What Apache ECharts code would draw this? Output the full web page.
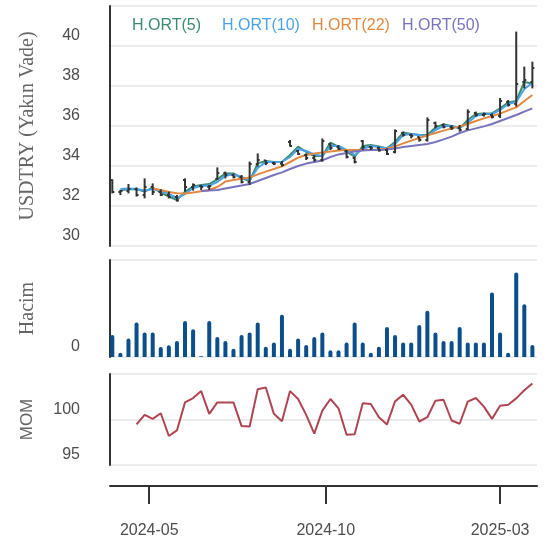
<!DOCTYPE html>
<html>
<head>
<meta charset="utf-8">
<script src="https://cdn.jsdelivr.net/npm/echarts@6/dist/echarts.min.js"></script>
<style>
  html, body { margin: 0; padding: 0; background: #fff; }
  #chart { width: 550px; height: 539px; }
</style>
</head>
<body>
<div id="chart"></div>
<script>
// weekly bars, USDTRY near-term future
var dates = ['2024-03-30','2024-04-06','2024-04-13','2024-04-20','2024-04-27','2024-05-04','2024-05-11','2024-05-18','2024-05-25',
  '2024-06-01','2024-06-08','2024-06-15','2024-06-22','2024-06-29','2024-07-06','2024-07-13','2024-07-20','2024-07-27',
  '2024-08-03','2024-08-10','2024-08-17','2024-08-24','2024-08-31','2024-09-07','2024-09-14','2024-09-21','2024-09-28',
  '2024-10-05','2024-10-12','2024-10-19','2024-10-26','2024-11-02','2024-11-09','2024-11-16','2024-11-23','2024-11-30',
  '2024-12-07','2024-12-14','2024-12-21','2024-12-28','2025-01-04','2025-01-11','2025-01-18','2025-01-25',
  '2025-02-01','2025-02-08','2025-02-15','2025-02-22','2025-03-01','2025-03-08','2025-03-15','2025-03-22','2025-03-29'];

var open  = [33.3, 32.7, 32.75, 32.85, 32.55, 32.95, 32.7, 32.55, 32.45, 33.3, 32.95, 33.0, 32.95, 33.35, 33.65, 33.55, 33.45, 33.2,
  34.1, 34.28, 34.15, 34.12, 35.2, 34.75, 34.55, 34.4, 34.3, 35.1, 34.95, 34.75, 34.4, 35.25, 34.95, 34.9, 34.8, 34.7,
  35.65, 35.55, 35.45, 35.3, 36.15, 36.05, 35.95, 35.9, 35.85, 36.65, 36.55, 36.55, 36.5, 37.2, 37.1, 38.2, 38.2];
var close = [32.7, 32.75, 32.85, 32.55, 32.95, 32.7, 32.55, 32.45, 32.28, 32.95, 33.05, 32.95, 33.0, 33.65, 33.55, 33.45, 33.2, 34.1,
  34.3, 34.15, 34.12, 34.05, 35.0, 34.6, 34.4, 34.3, 35.25, 34.9, 34.85, 34.45, 34.2, 34.95, 34.9, 34.78, 34.6, 35.75,
  35.55, 35.5, 35.3, 36.3, 36.0, 35.95, 35.9, 35.8, 36.7, 36.55, 36.6, 36.45, 37.25, 37.05, 38.1, 38.3, 38.9];
var low   = [32.63, 32.55, 32.63, 32.47, 32.38, 32.55, 32.5, 32.38, 32.22, 32.72, 32.77, 32.8, 32.8, 33.3, 33.38, 33.38, 33.13, 33.05,
  33.97, 34.05, 34.05, 33.97, 34.97, 34.55, 34.3, 34.22, 34.22, 34.8, 34.8, 34.38, 34.13, 34.8, 34.8, 34.72, 34.55, 34.63,
  35.47, 35.38, 35.22, 35.22, 35.88, 35.88, 35.8, 35.72, 35.8, 36.47, 36.47, 36.38, 36.4, 36.97, 36.97, 37.88, 37.88];
var high  = [33.33, 32.8, 33.1, 32.93, 33.38, 33.13, 32.83, 32.72, 32.55, 33.38, 33.13, 33.05, 33.05, 33.93, 33.72, 33.63, 33.55, 34.22,
  34.63, 34.3, 34.22, 34.25, 35.3, 34.8, 34.63, 34.55, 35.38, 35.13, 35.05, 34.8, 34.47, 35.3, 35.0, 34.97, 34.88, 35.83,
  35.72, 35.63, 35.47, 36.43, 36.22, 36.13, 36.05, 36.05, 36.83, 36.72, 36.67, 36.63, 37.4, 37.3, 40.72, 38.97, 39.22];

var volume = [66, 13, 55, 103, 73, 73, 30, 35, 48, 108, 83, 2, 108, 60, 48, 25, 66, 73, 103, 31, 43, 126, 25, 55, 36, 60, 73,
  20, 20, 43, 103, 43, 13, 31, 90, 66, 43, 43, 96, 138, 73, 48, 48, 90, 43, 43, 43, 193, 73, 13, 253, 158, 36];

var ma5 = [null, 32.77, 32.85, 32.83, 32.72, 32.92, 32.67, 32.47, 32.3, 32.72, 32.97, 33.05, 33.1, 33.33, 33.63, 33.63, 33.38, 33.25,
  34.13, 34.25, 34.2, 34.2, 34.55, 34.97, 34.7, 34.5, 34.5, 35.17, 34.97, 34.72, 34.47, 35.0, 35.05, 34.97, 34.88, 35.2,
  35.67, 35.6, 35.55, 35.55, 35.93, 36.08, 36.0, 35.88, 36.3, 36.6, 36.63, 36.63, 36.88, 37.17, 37.25, 38.2, 38.13];
var ma10 = [null, 32.85, 32.87, 32.85, 32.78, 32.85, 32.75, 32.6, 32.4, 32.6, 32.9, 33.0, 33.02, 33.2, 33.5, 33.6, 33.45, 33.3,
  33.9, 34.2, 34.2, 34.2, 34.45, 34.85, 34.75, 34.58, 34.5, 35.0, 35.0, 34.8, 34.55, 34.85, 35.0, 34.95, 34.88, 35.1,
  35.55, 35.6, 35.55, 35.5, 35.8, 36.0, 36.0, 35.9, 36.15, 36.5, 36.6, 36.6, 36.8, 37.1, 37.2, 37.85, 38.15];
var ma22 = [null, null, null, null, null, 32.88, 32.8, 32.7, 32.64, 32.63, 32.68, 32.74, 32.8, 32.95, 33.22, 33.3, 33.36, 33.42,
  33.58, 33.72, 33.85, 33.98, 34.2, 34.42, 34.55, 34.62, 34.68, 34.73, 34.77, 34.8, 34.8, 34.8, 34.8, 34.82, 34.86, 34.98,
  35.13, 35.27, 35.4, 35.53, 35.65, 35.77, 35.88, 35.98, 36.1, 36.25, 36.38, 36.5, 36.62, 36.78, 36.93, 37.25, 37.55];
var ma50 = [null, null, null, null, null, null, null, null, null, null, null, 32.75, 32.78, 32.8, 32.88, 32.95, 33.02, 33.1,
  33.25, 33.4, 33.55, 33.68, 33.85, 34.0, 34.12, 34.2, 34.28, 34.45, 34.58, 34.65, 34.72, 34.78, 34.8, 34.8, 34.82, 34.88,
  34.95, 35.0, 35.05, 35.1, 35.2, 35.33, 35.47, 35.65, 35.78, 35.88, 35.98, 36.1, 36.25, 36.4, 36.55, 36.72, 36.88];

var mom = [null, null, null, 99.46, 100.51, 100.07, 100.69, 98.19, 98.8, 101.88, 102.36, 103.12, 100.62, 101.88, 101.88, 101.88,
  99.28, 99.24, 103.33, 103.51, 100.62, 99.82, 103.12, 102.25, 100.51, 98.44, 100.98, 102.25, 101.23, 98.33, 98.37, 101.78,
  101.7, 100.25, 99.46, 101.99, 102.72, 101.63, 99.78, 100.25, 102.07, 102.17, 99.89, 99.53, 101.96, 102.36, 101.41, 100.07,
  101.52, 101.63, 102.32, 103.22, 103.95];

var xTicks = ['2024-05-01', '2024-10-01', '2025-03-01'];
var maNames = ['H.ORT(5)', 'H.ORT(10)', 'H.ORT(22)', 'H.ORT(50)'];
var maColors = ['#3b8a71', '#4aa3e6', '#e2893f', '#7773bf'];

function toTime(s) {
  var p = s.split('-');
  return Date.UTC(+p[0], +p[1] - 1, +p[2]);
}
function pair(arr) {
  return dates.map(function (d, i) { return [toTime(d), arr[i]]; });
}

var xMin = toTime('2024-03-28');
var xMax = toTime('2025-04-02');
var tickTimes = xTicks.map(toTime);

var ohlc = dates.map(function (d, i) {
  return [toTime(d), open[i], close[i], low[i], high[i]];
});

function renderOhlc(params, api) {
  var x = api.value(0);
  var o = api.coord([x, api.value(1)]);
  var c = api.coord([x, api.value(2)]);
  var l = api.coord([x, api.value(3)]);
  var h = api.coord([x, api.value(4)]);
  var st = { stroke: '#333', lineWidth: 2 };
  return {
    type: 'group',
    children: [
      { type: 'line', shape: { x1: h[0], y1: h[1], x2: l[0], y2: l[1] }, style: st },
      { type: 'line', shape: { x1: o[0] - 2, y1: o[1], x2: o[0], y2: o[1] }, style: st },
      { type: 'line', shape: { x1: c[0], y1: c[1], x2: c[0] + 2, y2: c[1] }, style: st }
    ]
  };
}

var gridLine = { show: true, lineStyle: { color: '#e6e6e6', width: 1.5 } };
var leftLine = { show: true, lineStyle: { color: '#333', width: 2 } };

// labels sit ~10px above their grid line, as in the original
var yLabel = {
  color: '#4d4d4d', fontSize: 16, fontFamily: 'Liberation Sans',
  margin: 30, showMaxLabel: false, verticalAlign: 'bottom', lineHeight: 20
};

var hiddenX = function (idx) {
  return { type: 'value', gridIndex: idx, min: xMin, max: xMax, show: false };
};

var chart = echarts.init(document.getElementById('chart'));

var series = [];
maNames.forEach(function (n, k) {
  series.push({
    name: n, type: 'line', xAxisIndex: 0, yAxisIndex: 0,
    data: pair([ma5, ma10, ma22, ma50][k]),
    showSymbol: false, connectNulls: false,
    lineStyle: { width: 2, color: maColors[k] }, itemStyle: { color: maColors[k] },
    z: 2
  });
});
series.push({
  name: 'ohlc', type: 'custom', xAxisIndex: 0, yAxisIndex: 0,
  renderItem: renderOhlc, data: ohlc, encode: { x: 0, y: [1, 2, 3, 4] }, z: 3
});
series.push({
  name: 'Hacim', type: 'bar', xAxisIndex: 1, yAxisIndex: 1,
  data: pair(volume), barWidth: 4,
  itemStyle: { color: '#0c4e8a', borderRadius: [2, 2, 0, 0] }
});
series.push({
  name: 'MOM', type: 'line', xAxisIndex: 2, yAxisIndex: 2,
  data: pair(mom), showSymbol: false,
  lineStyle: { width: 2, color: '#b04552' }
});

var legends = [122, 212, 302, 392].map(function (left, k) {
  return {
    data: [{ name: maNames[k], icon: 'none', textStyle: { color: maColors[k] } }],
    left: left, top: 13, itemWidth: 0, itemHeight: 10,
    textStyle: { fontSize: 16, fontFamily: 'Liberation Sans' },
    selectedMode: false
  };
});

chart.setOption({
  animation: false,
  backgroundColor: '#fff',
  legend: legends,
  grid: [
    { left: 110, right: 13, top: 6, height: 240 },
    { left: 110, right: 13, top: 260, height: 97 },
    { left: 110, right: 13, top: 374, height: 92.5 }
  ],
  xAxis: [
    hiddenX(0),
    hiddenX(1),
    {
      type: 'value', gridIndex: 2, min: xMin, max: xMax, offset: 21,
      axisLine: { show: true, lineStyle: { color: '#333', width: 2 } },
      axisTick: { show: true, length: 18, lineStyle: { color: '#333', width: 2 }, customValues: tickTimes },
      axisLabel: {
        customValues: tickTimes, margin: 37,
        color: '#4d4d4d', fontSize: 16, fontFamily: 'Liberation Sans',
        formatter: function (v) {
          var d = new Date(v);
          var m = d.getUTCMonth() + 1;
          return d.getUTCFullYear() + '-' + (m < 10 ? '0' + m : m);
        }
      },
      splitLine: { show: false }
    }
  ],
  yAxis: [
    {
      type: 'value', gridIndex: 0, min: 30, max: 42, interval: 2,
      name: 'USDTRY (Yakın Vade)', nameLocation: 'middle', nameGap: 72,
      nameTextStyle: { fontFamily: 'Liberation Serif', fontSize: 20, color: '#666' },
      axisLine: leftLine, axisTick: { show: false }, splitLine: gridLine,
      axisLabel: yLabel
    },
    {
      type: 'value', gridIndex: 1, min: 0, max: 290, interval: 290,
      name: 'Hacim', nameLocation: 'middle', nameGap: 72,
      nameTextStyle: { fontFamily: 'Liberation Serif', fontSize: 20, color: '#666' },
      axisLine: leftLine, axisTick: { show: false }, splitLine: gridLine,
      axisLabel: yLabel
    },
    {
      type: 'value', gridIndex: 2, min: 95, max: 105, interval: 5,
      name: 'MOM', nameLocation: 'middle', nameGap: 74,
      nameTextStyle: { fontFamily: 'Liberation Sans', fontSize: 17, color: '#666' },
      axisLine: leftLine, axisTick: { show: false }, splitLine: gridLine,
      axisLabel: yLabel
    }
  ],
  series: series
});
</script>
</body>
</html>
